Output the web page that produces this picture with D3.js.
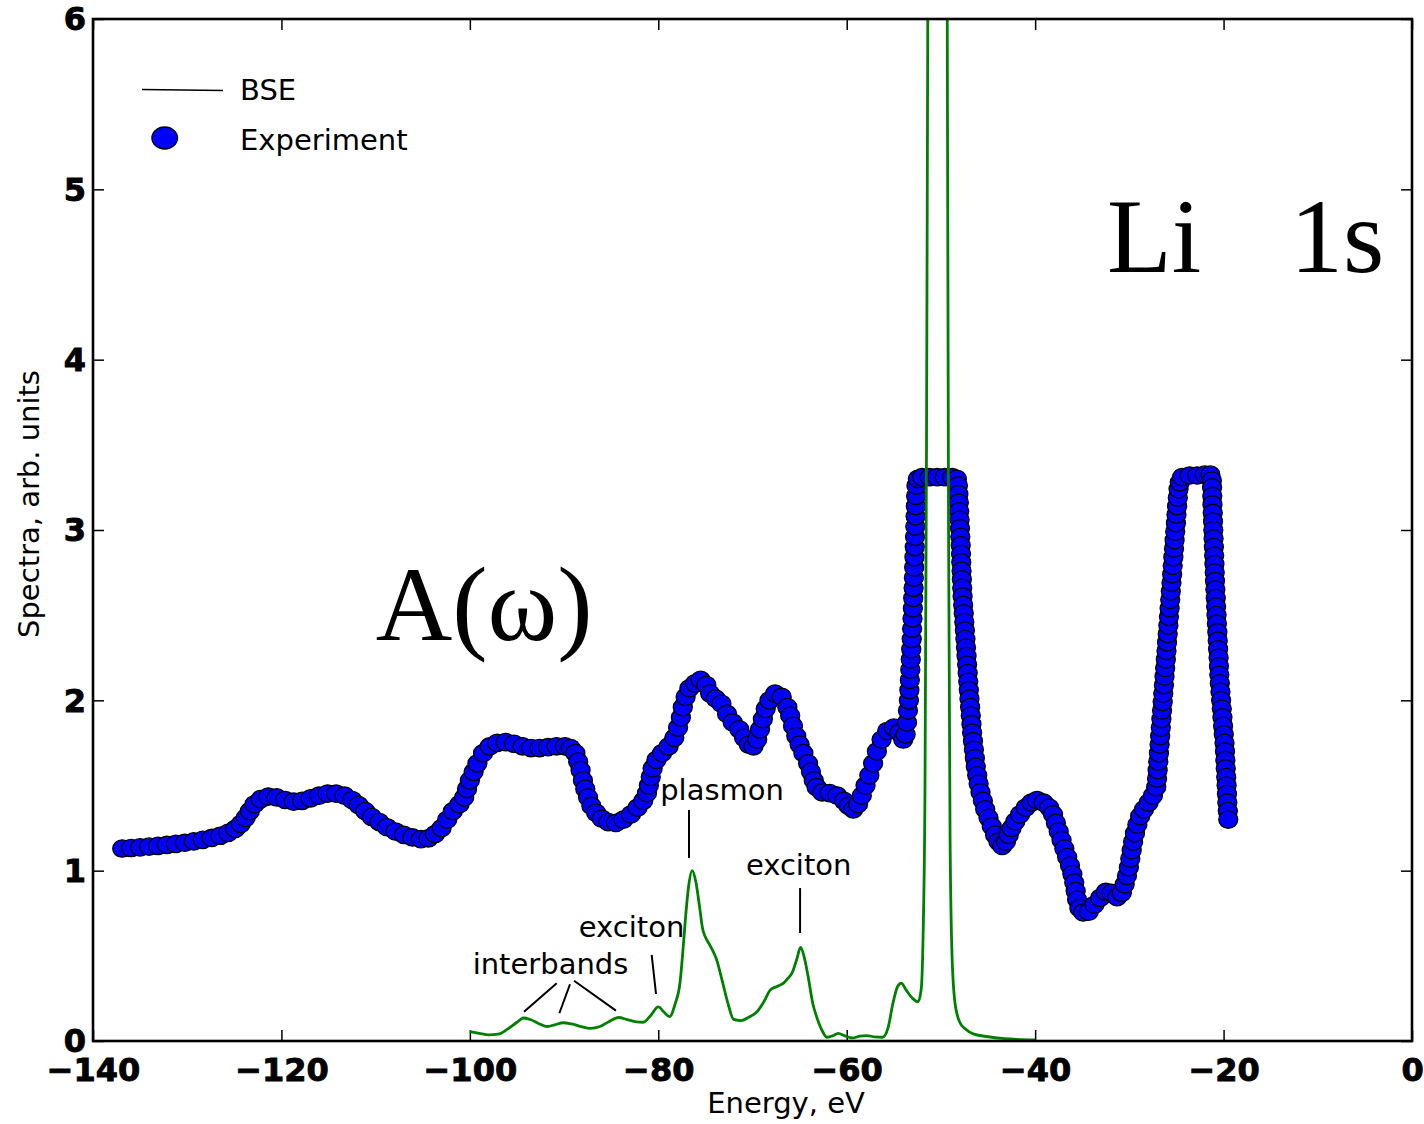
<!DOCTYPE html>
<html>
<head>
<meta charset="utf-8">
<script src="https://cdn.jsdelivr.net/npm/d3@7"></script>
<style>
  html, body { margin: 0; padding: 0; background: #fff; }
  svg { display: block; }
</style>
</head>
<body>
<svg id="chart" width="1424" height="1124"></svg>
<script>
// Measured absorption spectrum A(ω) near the Li 1s edge: [energy (eV), intensity]
const experimentPoints = [
  [-136.9,1.130],[-135.95,1.133],[-135.0,1.137],[-134.05,1.141],[-133.1,1.146],[-132.15,1.151],
  [-131.2,1.157],[-130.25,1.164],[-129.3,1.172],[-128.35,1.181],[-127.4,1.192],[-126.5,1.205],
  [-125.65,1.222],[-124.9,1.245],[-124.3,1.275],[-123.8,1.31],[-123.35,1.35],[-122.85,1.39],
  [-122.2,1.42],[-121.4,1.435],[-120.5,1.43],[-119.6,1.415],[-118.7,1.405],[-117.8,1.41],
  [-116.9,1.425],[-116.0,1.44],[-115.1,1.452],[-114.2,1.452],[-113.3,1.44],[-112.5,1.415],
  [-111.8,1.385],[-111.1,1.35],[-110.4,1.315],[-109.6,1.285],[-108.8,1.255],[-107.9,1.23],
  [-107.0,1.21],[-106.1,1.195],[-105.2,1.185],[-104.4,1.19],[-103.7,1.215],[-103.0,1.25],
  [-102.4,1.30],[-101.8,1.35],[-101.1,1.39],[-100.6,1.43],[-100.3,1.48],[-100.0,1.53],
  [-99.6,1.58],[-99.2,1.63],[-98.6,1.69],[-97.9,1.73],[-97.1,1.75],[-96.2,1.755],
  [-95.3,1.745],[-94.4,1.73],[-93.5,1.72],[-92.6,1.72],[-91.7,1.725],[-90.8,1.73],[-89.9,1.73],
  [-89.3,1.72],[-88.8,1.69],[-88.5,1.64],[-88.25,1.59],[-88.0,1.53],[-87.75,1.48],[-87.45,1.43],
  [-87.1,1.38],[-86.6,1.34],[-86.0,1.305],[-85.3,1.285],[-84.5,1.28],[-83.7,1.30],[-82.9,1.33],
  [-82.2,1.37],[-81.6,1.41],[-81.2,1.455],[-81.0,1.50],[-80.8,1.55],[-80.6,1.60],[-80.2,1.65],
  [-79.6,1.69],[-78.9,1.73],[-78.3,1.78],[-77.9,1.84],[-77.6,1.90],[-77.4,1.96],[-77.1,2.02],
  [-76.7,2.07],[-76.1,2.10],[-75.5,2.12],[-74.9,2.09],[-74.5,2.04],[-73.9,2.01],[-73.3,1.98],
  [-72.7,1.92],[-72.1,1.87],[-71.4,1.83],[-70.9,1.78],[-70.4,1.74],[-69.9,1.73],[-69.5,1.77],
  [-69.2,1.83],[-68.9,1.89],[-68.6,1.95],[-68.2,2.00],[-67.6,2.04],[-66.9,2.02],[-66.3,1.96],
  [-66.0,1.91],[-65.7,1.85],[-65.35,1.79],[-65.0,1.74],[-64.6,1.69],[-64.1,1.63],[-63.8,1.58],
  [-63.5,1.53],[-63.2,1.49],[-62.6,1.46],[-61.8,1.455],[-61.0,1.44],[-60.3,1.41],[-59.8,1.38],
  [-59.3,1.36],[-58.8,1.39],[-58.4,1.44],[-58.0,1.50],[-57.6,1.56],[-57.2,1.63],[-56.8,1.70],
  [-56.3,1.77],[-55.7,1.82],[-55.0,1.84],[-54.4,1.81],[-54.0,1.77],
  [-53.75,1.80],[-53.6,1.87],[-53.5,1.94],[-53.4,2.00],[-53.35,2.06],[-53.3,2.12],[-53.25,2.18],
  [-53.2,2.24],[-53.15,2.30],[-53.1,2.36],[-53.06,2.42],[-53.02,2.48],[-52.98,2.54],[-52.94,2.60],
  [-52.9,2.66],[-52.87,2.72],[-52.84,2.78],[-52.81,2.84],[-52.78,2.90],[-52.75,2.96],[-52.72,3.02],
  [-52.69,3.08],[-52.66,3.14],[-52.63,3.20],[-52.6,3.26],[-52.45,3.30],[-52.0,3.31],[-51.2,3.31],
  [-50.4,3.31],[-49.6,3.31],[-48.8,3.31],[-48.3,3.30],
  [-48.2,3.26],[-48.15,3.21],[-48.1,3.16],[-48.06,3.11],[-48.02,3.06],[-47.98,3.01],[-47.94,2.96],
  [-47.9,2.91],[-47.87,2.86],[-47.84,2.81],[-47.81,2.76],[-47.78,2.71],[-47.74,2.66],[-47.7,2.61],
  [-47.64,2.56],[-47.58,2.51],[-47.52,2.46],[-47.46,2.41],[-47.4,2.36],[-47.34,2.31],[-47.28,2.26],
  [-47.22,2.21],[-47.16,2.16],[-47.1,2.11],[-47.04,2.06],[-46.97,2.01],[-46.9,1.96],[-46.83,1.91],
  [-46.76,1.86],[-46.69,1.81],[-46.6,1.76],[-46.5,1.71],[-46.4,1.66],[-46.3,1.61],[-46.15,1.56],
  [-46.0,1.51],[-45.8,1.46],[-45.55,1.41],[-45.3,1.36],[-44.95,1.31],[-44.6,1.26],[-44.25,1.21],
  [-43.9,1.17],[-43.5,1.145],
  [-43.1,1.17],[-42.8,1.21],[-42.5,1.25],[-42.1,1.29],[-41.6,1.33],[-41.0,1.37],[-40.4,1.40],
  [-39.8,1.415],[-39.1,1.40],[-38.5,1.37],[-38.1,1.33],[-37.8,1.28],[-37.5,1.23],[-37.2,1.18],
  [-36.9,1.13],[-36.6,1.08],[-36.3,1.03],[-36.05,0.98],[-35.85,0.93],[-35.7,0.88],[-35.55,0.83],
  [-35.3,0.78],[-34.9,0.755],[-34.3,0.76],[-33.7,0.80],[-33.1,0.84],[-32.5,0.875],[-31.9,0.87],
  [-31.3,0.845],[-30.8,0.87],[-30.5,0.92],[-30.25,0.97],[-30.05,1.02],[-29.9,1.07],[-29.75,1.12],
  [-29.6,1.17],[-29.4,1.22],[-29.15,1.27],[-28.85,1.32],[-28.45,1.36],[-27.95,1.40],[-27.5,1.44],
  [-27.15,1.49],[-27.06,1.54],[-27.0,1.59],[-26.93,1.64],[-26.86,1.69],[-26.79,1.74],[-26.73,1.79],
  [-26.66,1.84],[-26.6,1.89],[-26.53,1.94],[-26.46,1.99],[-26.4,2.04],[-26.33,2.09],[-26.27,2.14],
  [-26.2,2.19],[-26.13,2.24],[-26.06,2.29],[-26.0,2.34],[-25.93,2.39],[-25.86,2.44],[-25.8,2.49],
  [-25.73,2.54],[-25.66,2.59],[-25.6,2.64],[-25.53,2.69],[-25.46,2.74],[-25.4,2.79],[-25.33,2.84],
  [-25.26,2.89],[-25.2,2.94],[-25.13,2.99],[-25.06,3.04],[-25.0,3.09],[-24.93,3.14],[-24.86,3.19],
  [-24.78,3.24],[-24.65,3.28],[-24.4,3.31],
  [-23.6,3.32],[-22.8,3.32],[-22.0,3.325],[-21.4,3.325],[-21.24,3.29],
  [-21.22,3.25],[-21.2,3.20],[-21.18,3.15],[-21.15,3.10],[-21.12,3.05],[-21.09,3.00],[-21.06,2.95],
  [-21.03,2.90],[-21.0,2.85],[-20.97,2.80],[-20.94,2.75],[-20.91,2.70],[-20.87,2.65],[-20.83,2.60],
  [-20.79,2.55],[-20.75,2.50],[-20.71,2.45],[-20.66,2.40],[-20.62,2.35],[-20.58,2.30],[-20.53,2.25],
  [-20.49,2.20],[-20.45,2.15],[-20.4,2.10],[-20.33,2.05],[-20.26,2.00],[-20.19,1.95],[-20.12,1.90],
  [-20.05,1.85],[-19.98,1.80],[-19.9,1.75],[-19.85,1.70],[-19.81,1.65],[-19.77,1.60],[-19.72,1.55],
  [-19.68,1.50],[-19.64,1.45],[-19.6,1.40],[-19.55,1.35],[-19.5,1.30]
];

// Bethe–Salpeter (BSE) spectrum: [energy (eV), intensity]; the main line runs far above the frame
const bsePoints = [
  [-100.0,0.055],[-99.0,0.045],[-98.0,0.036],[-97.0,0.04],[-96.0,0.07],[-95.0,0.11],[-94.3,0.135],
  [-93.5,0.125],[-92.6,0.10],[-91.8,0.085],[-91.0,0.095],[-90.1,0.107],[-89.2,0.10],[-88.2,0.085],
  [-87.2,0.074],[-86.2,0.085],[-85.2,0.115],[-84.2,0.138],[-83.3,0.125],[-82.3,0.112],[-81.6,0.11],
  [-80.8,0.15],[-80.0,0.20],[-79.4,0.17],[-78.8,0.143],[-78.2,0.22],[-77.7,0.34],[-77.4,0.52],
  [-77.1,0.73],[-76.8,0.90],[-76.4,1.00],[-76.0,0.93],[-75.6,0.78],[-75.3,0.66],[-75.0,0.61],
  [-74.5,0.56],[-73.8,0.476],[-73.2,0.35],[-72.6,0.22],[-72.0,0.127],[-71.2,0.12],[-70.4,0.14],
  [-69.55,0.17],[-68.8,0.23],[-68.1,0.30],[-67.4,0.32],[-66.7,0.34],[-66.2,0.37],[-65.8,0.40],
  [-65.3,0.48],[-64.9,0.55],[-64.5,0.49],[-64.1,0.38],[-63.6,0.22],[-63.2,0.143],[-62.6,0.06],
  [-62.1,0.022],[-61.5,0.03],[-60.9,0.045],[-60.2,0.03],[-59.4,0.018],[-58.6,0.028],[-57.9,0.032],
  [-57.0,0.024],[-56.2,0.022],[-55.6,0.08],[-55.1,0.22],[-54.6,0.32],[-54.2,0.34],[-53.7,0.30],
  [-53.0,0.25],[-52.43,0.23],[-52.1,0.30],[-51.9,0.6],[-51.69,1.5],[-51.53,3.5],[-51.37,6.5],
  [-50.36,30],[-49.35,6.5],[-49.19,3.0],[-49.03,1.2],[-48.82,0.5],[-48.5,0.22],[-48.0,0.11],
  [-47.4,0.07],[-46.5,0.04],[-45.0,0.025],[-43.5,0.015],[-42.0,0.01],[-40.0,0.006]
];

const xTicks = [-140, -120, -100, -80, -60, -40, -20, 0];
const yTicks = [0, 1, 2, 3, 4, 5, 6];
const legendLabels = ["BSE", "Experiment"];

// Peak labels on the BSE curve: text anchor and the pointer segments, in data units
const peakNotes = [
  { text: "plasmon",    at: [-73.23, 1.415], lines: [[[-76.74, 1.356], [-76.74, 1.074]]] },
  { text: "exciton",    at: [-65.1, 0.975],  lines: [[[-64.95, 0.898], [-64.95, 0.634]]] },
  { text: "exciton",    at: [-82.84, 0.611], lines: [[[-80.70, 0.505], [-80.24, 0.276]]] },
  { text: "interbands", at: [-91.44, 0.393], lines: [
      [[-90.78, 0.339], [-94.25, 0.172]],
      [[-89.37, 0.333], [-90.50, 0.163]],
      [[-88.94, 0.354], [-84.49, 0.178]] ] }
];

// Panel labels, placed at [energy, intensity] of their baseline start
const panelLabels = [
  { text: "A(ω)", at: [-110.0, 2.354] },
  { text: "Li",   at: [-32.37, 4.515] },
  { text: "1s",   at: [-12.95, 4.515] }
];

const svg = d3.select("#chart");
const margin = { left: 93, right: 1412, top: 19, bottom: 1041 };

const x = d3.scaleLinear().domain([-140, 0]).range([margin.left, margin.right]);
const y = d3.scaleLinear().domain([0, 6]).range([margin.bottom, margin.top]);

svg.append("defs").append("clipPath").attr("id", "plot-clip")
  .append("rect")
  .attr("x", margin.left).attr("y", margin.top)
  .attr("width", margin.right - margin.left).attr("height", margin.bottom - margin.top);

const sans = "'DejaVu Sans', Verdana, sans-serif";

// Axes with inward ticks on all four sides
const fmt = d3.format("d");
const gx = svg.append("g").attr("transform", `translate(0,${margin.bottom})`)
  .call(d3.axisBottom(x).tickValues(xTicks).tickFormat(fmt).tickSizeInner(-11).tickSizeOuter(0).tickPadding(17));
const gxTop = svg.append("g").attr("transform", `translate(0,${margin.top})`)
  .call(d3.axisTop(x).tickValues(xTicks).tickFormat("").tickSizeInner(-11).tickSizeOuter(0));
const gy = svg.append("g").attr("transform", `translate(${margin.left},0)`)
  .call(d3.axisLeft(y).tickValues(yTicks).tickFormat(fmt).tickSizeInner(-11).tickSizeOuter(0).tickPadding(7));
const gyRight = svg.append("g").attr("transform", `translate(${margin.right},0)`)
  .call(d3.axisRight(y).tickValues(yTicks).tickFormat("").tickSizeInner(-11).tickSizeOuter(0));

[gx, gxTop, gy, gyRight].forEach(g => {
  g.select(".domain").remove();
  g.selectAll(".tick line").attr("stroke", "#000").attr("stroke-width", 1.5);
  g.selectAll("text")
    .attr("fill", "#000")
    .attr("stroke", "#000")
    .attr("stroke-width", 0.9)
    .style("font-family", sans)
    .style("font-weight", "bold")
    .style("font-size", "32px");
});
gy.selectAll(".tick text").attr("dy", "0.34em");

// Experimental data as overlapping markers
const plot = svg.append("g").attr("clip-path", "url(#plot-clip)");
plot.append("g").selectAll("ellipse")
  .data(experimentPoints)
  .join("ellipse")
  .attr("cx", d => x(d[0]))
  .attr("cy", d => y(d[1]))
  .attr("rx", 9.5)
  .attr("ry", 8.7)
  .attr("fill", "#0000ff")
  .attr("stroke", "#000")
  .attr("stroke-width", 1.3);

// BSE curve
const bseLine = d3.line().x(d => x(d[0])).y(d => y(d[1])).curve(d3.curveMonotoneX);
plot.append("path")
  .datum(bsePoints)
  .attr("d", bseLine)
  .attr("fill", "none")
  .attr("stroke", "#008000")
  .attr("stroke-width", 2.8)
  .attr("stroke-linejoin", "round");

// Frame
svg.append("rect")
  .attr("x", margin.left).attr("y", margin.top)
  .attr("width", margin.right - margin.left).attr("height", margin.bottom - margin.top)
  .attr("fill", "none").attr("stroke", "#000").attr("stroke-width", 2.6);

// Peak annotations
const notes = svg.append("g");
peakNotes.forEach(n => {
  notes.append("text")
    .attr("x", x(n.at[0])).attr("y", y(n.at[1]))
    .attr("text-anchor", "middle")
    .style("font-family", sans).style("font-size", "29px")
    .attr("fill", "#000")
    .text(n.text);
  n.lines.forEach(seg => {
    notes.append("line")
      .attr("x1", x(seg[0][0])).attr("y1", y(seg[0][1]))
      .attr("x2", x(seg[1][0])).attr("y2", y(seg[1][1]))
      .attr("stroke", "#000").attr("stroke-width", 2);
  });
});

// Large panel labels
const serif = "'Liberation Serif', 'Times New Roman', 'DejaVu Serif', serif";
svg.append("g").selectAll("text")
  .data(panelLabels)
  .join("text")
  .attr("x", d => x(d.at[0]))
  .attr("y", d => y(d.at[1]))
  .style("font-family", serif).style("font-size", "106px").attr("fill", "#000")
  .text(d => d.text);

// Axis titles
svg.append("text")
  .attr("x", 786).attr("y", 1113)
  .attr("text-anchor", "middle")
  .style("font-family", sans).style("font-size", "29px").attr("fill", "#000")
  .text("Energy, eV");
svg.append("text")
  .attr("transform", "translate(39,504) rotate(-90)")
  .attr("text-anchor", "middle")
  .style("font-family", sans).style("font-size", "29px").attr("fill", "#000")
  .text("Spectra, arb. units");

// Legend
const legend = svg.append("g");
legend.append("line")
  .attr("x1", 142).attr("y1", 89.5).attr("x2", 223).attr("y2", 90.5)
  .attr("stroke", "#000").attr("stroke-width", 1.6);
legend.append("ellipse")
  .attr("cx", 164.7).attr("cy", 138).attr("rx", 12.8).attr("ry", 11)
  .attr("fill", "#0000ff").attr("stroke", "#000").attr("stroke-width", 1.3);
legend.selectAll("text.lab")
  .data(legendLabels)
  .join("text")
  .attr("class", "lab")
  .attr("x", 240)
  .attr("y", (d, i) => 100 + i * 50)
  .style("font-family", sans).style("font-size", "29px").attr("fill", "#000")
  .text(d => d);
</script>
</body>
</html>
